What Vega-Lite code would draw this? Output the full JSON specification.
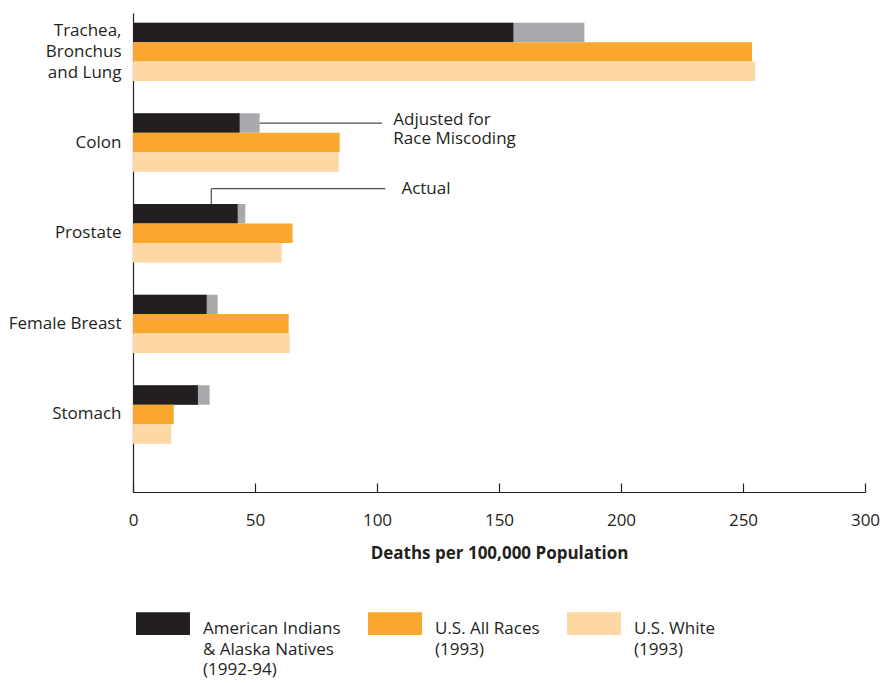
{
  "$schema": "https://vega.github.io/schema/vega-lite/v6.json",
  "width": 732,
  "height": 479,
  "autosize": {"type": "none"},
  "padding": {"left": 133, "top": 13, "right": 18, "bottom": 191},
  "background": "white",
  "config": {
    "view": {"stroke": null},
    "font": "Open Sans",
    "style": {"guide-label": {"lineHeight": 20.5}},
    "axisY": {"domain": true, "domainColor": "#231f20", "domainWidth": 1.2, "ticks": false, "grid": false, "labelFontSize": 17, "labelColor": "#231f20", "labelPadding": 12, "labelLineHeight": 21, "labelExpr": "split(datum.label, '\\n')", "labelOffset": {"condition": {"test": "indexof(datum.label, 'Lung') >= 0", "value": -21}, "value": 0}, "title": null},
    "axisX": {"domainColor": "#231f20", "domainWidth": 1.2, "tickColor": "#231f20", "tickWidth": 1.2, "tickSize": -9, "grid": false, "labelFontSize": 17, "labelColor": "#231f20", "labelPadding": 29, "labelBaseline": "top", "labelFlush": false, "titleFontSize": 17, "titleFontWeight": "bold", "titleColor": "#231f20", "titlePadding": 17},
    "legend": {"labelFont": "Open Sans", "labelFontSize": 17, "labelColor": "#231f20", "labelLimit": 400}
  },
  "datasets": {
    "bars": [
      {"cause": "Trachea,\nBronchus\nand Lung", "series": "American Indians\n& Alaska Natives\n(1992-94)", "value": 155.9, "adjusted": 185.0},
      {"cause": "Trachea,\nBronchus\nand Lung", "series": "U.S. All Races\n(1993)", "value": 253.7},
      {"cause": "Trachea,\nBronchus\nand Lung", "series": "U.S. White\n(1993)", "value": 255.0},
      {"cause": "Colon", "series": "American Indians\n& Alaska Natives\n(1992-94)", "value": 43.7, "adjusted": 51.9},
      {"cause": "Colon", "series": "U.S. All Races\n(1993)", "value": 84.7},
      {"cause": "Colon", "series": "U.S. White\n(1993)", "value": 84.3},
      {"cause": "Prostate", "series": "American Indians\n& Alaska Natives\n(1992-94)", "value": 42.9, "adjusted": 46.0},
      {"cause": "Prostate", "series": "U.S. All Races\n(1993)", "value": 65.4},
      {"cause": "Prostate", "series": "U.S. White\n(1993)", "value": 60.9},
      {"cause": "Female Breast", "series": "American Indians\n& Alaska Natives\n(1992-94)", "value": 30.2, "adjusted": 34.7},
      {"cause": "Female Breast", "series": "U.S. All Races\n(1993)", "value": 63.8},
      {"cause": "Female Breast", "series": "U.S. White\n(1993)", "value": 64.2},
      {"cause": "Stomach", "series": "American Indians\n& Alaska Natives\n(1992-94)", "value": 26.6, "adjusted": 31.4},
      {"cause": "Stomach", "series": "U.S. All Races\n(1993)", "value": 16.7},
      {"cause": "Stomach", "series": "U.S. White\n(1993)", "value": 15.7}
    ]
  },
  "layer": [
    {
      "data": {"name": "bars"},
      "transform": [{"filter": "isValid(datum.adjusted)"}],
      "mark": {"type": "bar", "color": "#a7a9ac"},
      "encoding": {
        "x": {"field": "adjusted", "type": "quantitative", "scale": {"domain": [0, 300], "nice": false}, "axis": {"values": [0, 50, 100, 150, 200, 250, 300]}, "title": "Deaths per 100,000 Population"},
        "y": {"field": "cause", "type": "nominal", "sort": ["Trachea,\nBronchus\nand Lung", "Colon", "Prostate", "Female Breast", "Stomach"], "scale": {"domain": ["Trachea,\nBronchus\nand Lung", "Colon", "Prostate", "Female Breast", "Stomach"], "paddingInner": 0.3558, "paddingOuter": 0.32, "align": 0.167}},
        "yOffset": {"field": "series", "type": "nominal", "sort": ["American Indians\n& Alaska Natives\n(1992-94)", "U.S. All Races\n(1993)", "U.S. White\n(1993)"], "scale": {"domain": ["American Indians\n& Alaska Natives\n(1992-94)", "U.S. All Races\n(1993)", "U.S. White\n(1993)"], "paddingInner": 0, "paddingOuter": 0}}
      }
    },
    {
      "data": {"name": "bars"},
      "mark": {"type": "bar"},
      "encoding": {
        "x": {"field": "value", "type": "quantitative", "title": "Deaths per 100,000 Population"},
        "y": {"field": "cause", "type": "nominal", "sort": ["Trachea,\nBronchus\nand Lung", "Colon", "Prostate", "Female Breast", "Stomach"]},
        "yOffset": {"field": "series", "type": "nominal", "sort": ["American Indians\n& Alaska Natives\n(1992-94)", "U.S. All Races\n(1993)", "U.S. White\n(1993)"]},
        "color": {
          "field": "series", "type": "nominal",
          "scale": {"domain": ["American Indians\n& Alaska Natives\n(1992-94)", "U.S. All Races\n(1993)", "U.S. White\n(1993)"], "range": ["#231f20", "#f9a72e", "#fdd7a4"]},
          "legend": {"orient": "none", "legendX": 3, "legendY": 589, "direction": "horizontal", "title": null, "padding": 0, "symbolType": "M-1,-0.62H1V0.22H-1Z", "symbolSize": 2916, "symbolStrokeWidth": 0, "symbolOpacity": 1, "labelOffset": 13, "columnPadding": 27, "labelExpr": "indexof(datum.label, '(1992') >= 0 ? split(datum.label, '\\n') : split(datum.label + '\\n ', '\\n')", "labelBaseline": "middle"}
        }
      }
    },
    {
      "data": {"values": [{"cause": "Colon", "series": "American Indians\n& Alaska Natives\n(1992-94)", "from": 51.9, "to": 102}]},
      "mark": {"type": "rule", "color": "#4d4d4f", "strokeWidth": 1.2},
      "encoding": {
        "x": {"field": "from", "type": "quantitative", "title": "Deaths per 100,000 Population"},
        "x2": {"field": "to"},
        "y": {"field": "cause", "type": "nominal", "sort": ["Trachea,\nBronchus\nand Lung", "Colon", "Prostate", "Female Breast", "Stomach"]},
        "yOffset": {"field": "series", "type": "nominal", "sort": ["American Indians\n& Alaska Natives\n(1992-94)", "U.S. All Races\n(1993)", "U.S. White\n(1993)"]}
      }
    },
    {
      "data": {"values": [{"cause": "Prostate", "from": 32.1, "to": 103.4}]},
      "mark": {"type": "rule", "color": "#4d4d4f", "strokeWidth": 1.2},
      "encoding": {
        "x": {"field": "from", "type": "quantitative", "title": "Deaths per 100,000 Population"},
        "x2": {"field": "to"},
        "y": {"field": "cause", "type": "nominal", "bandPosition": -0.262, "sort": ["Trachea,\nBronchus\nand Lung", "Colon", "Prostate", "Female Breast", "Stomach"]}
      }
    },
    {
      "data": {"values": [{"cause": "Prostate", "from": 32.1}]},
      "mark": {"type": "rule", "color": "#4d4d4f", "strokeWidth": 1.2},
      "encoding": {
        "x": {"field": "from", "type": "quantitative", "title": "Deaths per 100,000 Population"},
        "y": {"field": "cause", "type": "nominal", "bandPosition": -0.262, "sort": ["Trachea,\nBronchus\nand Lung", "Colon", "Prostate", "Female Breast", "Stomach"]},
        "y2": {"field": "cause", "bandPosition": 0}
      }
    },
    {
      "data": {"values": [{"cause": "Colon", "series": "American Indians\n& Alaska Natives\n(1992-94)", "at": 106.7, "label": "Adjusted for\nRace Miscoding"}]},
      "mark": {"type": "text", "align": "left", "baseline": "alphabetic", "dy": 2, "fontSize": 17, "lineHeight": 19, "lineBreak": "\n", "color": "#231f20"},
      "encoding": {
        "x": {"field": "at", "type": "quantitative", "title": "Deaths per 100,000 Population"},
        "y": {"field": "cause", "type": "nominal", "sort": ["Trachea,\nBronchus\nand Lung", "Colon", "Prostate", "Female Breast", "Stomach"]},
        "yOffset": {"field": "series", "type": "nominal", "sort": ["American Indians\n& Alaska Natives\n(1992-94)", "U.S. All Races\n(1993)", "U.S. White\n(1993)"]},
        "text": {"field": "label"}
      }
    },
    {
      "data": {"values": [{"cause": "Prostate", "at": 110, "label": "Actual"}]},
      "mark": {"type": "text", "align": "left", "baseline": "alphabetic", "dy": 5, "fontSize": 17, "color": "#231f20"},
      "encoding": {
        "x": {"field": "at", "type": "quantitative", "title": "Deaths per 100,000 Population"},
        "y": {"field": "cause", "type": "nominal", "bandPosition": -0.262, "sort": ["Trachea,\nBronchus\nand Lung", "Colon", "Prostate", "Female Breast", "Stomach"]},
        "text": {"field": "label"}
      }
    }
  ]
}
